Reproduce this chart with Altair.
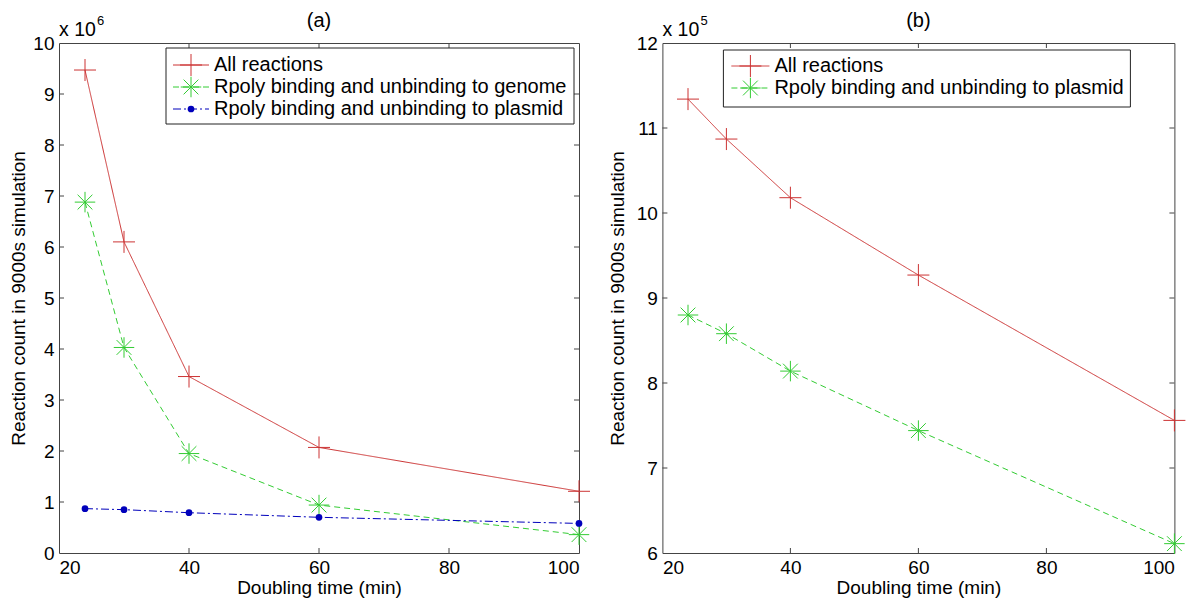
import altair as alt
import pandas as pd

# ---------------- data ----------------
doubling = [24, 30, 40, 60, 100]

a_names = ["All reactions",
           "Rpoly binding and unbinding to genome",
           "Rpoly binding and unbinding to plasmid"]
a_all = [9.47, 6.10, 3.46, 2.07, 1.21]        # x 10^6
a_genome = [6.88, 4.03, 1.95, 0.94, 0.36]     # x 10^6
a_plasmid = [0.87, 0.85, 0.79, 0.70, 0.58]    # x 10^6

b_names = ["All reactions",
           "Rpoly binding and unbinding to plasmid"]
b_all = [11.34, 10.87, 10.18, 9.27, 7.56]     # x 10^5
b_plasmid = [8.80, 8.58, 8.14, 7.44, 6.11]    # x 10^5

x_ticks = [20, 40, 60, 80, 100]
a_yticks = [0, 1, 2, 3, 4, 5, 6, 7, 8, 9, 10]
b_yticks = [6, 7, 8, 9, 10, 11, 12]

# ---------------- styles ----------------
FONT = "Liberation Sans"
H = 510
RED, GREEN, BLUE = "#cc3333", "#33cc33", "#0000bb"
BOX = "#444444"
PLUS = "M-1,0L1,0M0,-1L0,1"
STAR = "M-1,0L1,0M0,-1L0,1M-0.72,-0.72L0.72,0.72M-0.72,0.72L0.72,-0.72"

STYLES = {
    "red": dict(color=RED, dash=[1, 0], shape=PLUS, size=484, filled=False),
    "green": dict(color=GREEN, dash=[6, 4], shape=STAR, size=420, filled=False),
    "blue": dict(color=BLUE, dash=[8, 3, 2, 3], shape="circle", size=45, filled=True),
}


def panel(W, series, names, styles, ydomain, yticks, letter, exponent,
          legend_box, legend_rows, line_x, text_x, ytitle_pad):
    xs = alt.Scale(domain=[20, 100], nice=False, zero=False, padding=0)
    ys = alt.Scale(domain=ydomain, nice=False, zero=False, padding=0)
    xaxis = alt.Axis(values=x_ticks, title="Doubling time (min)", format="d",
                     labelPadding=5, titlePadding=1)
    yaxis = alt.Axis(values=yticks, title="Reaction count in 9000s simulation",
                     format="d", labelPadding=5, titlePadding=ytitle_pad)
    layers = []
    for vals, st in zip(series, styles):
        s = STYLES[st]
        df = pd.DataFrame({"x": doubling, "y": vals})
        enc = dict(x=alt.X("x:Q", scale=xs, axis=xaxis),
                   y=alt.Y("y:Q", scale=ys, axis=yaxis))
        layers.append(alt.Chart(df).mark_line(
            color=s["color"], strokeWidth=1, strokeDash=s["dash"]).encode(**enc))
        layers.append(alt.Chart(df).mark_point(
            shape=s["shape"], size=s["size"], filled=s["filled"],
            color=s["color"], strokeWidth=1, opacity=1).encode(**enc))

    # inward ticks
    xt = pd.DataFrame({"v": [t for t in x_ticks if t not in (20, 100)]})
    yt = pd.DataFrame({"v": yticks[1:-1]})
    tick = dict(color=BOX, strokeWidth=1)
    layers.append(alt.Chart(xt).mark_rule(**tick).encode(
        x=alt.X("v:Q", scale=xs, axis=xaxis), y=alt.value(H), y2=alt.value(H - 5)))
    layers.append(alt.Chart(xt).mark_rule(**tick).encode(
        x=alt.X("v:Q", scale=xs, axis=xaxis), y=alt.value(0), y2=alt.value(5)))
    layers.append(alt.Chart(yt).mark_rule(**tick).encode(
        y=alt.Y("v:Q", scale=ys, axis=yaxis), x=alt.value(0), x2=alt.value(5)))
    layers.append(alt.Chart(yt).mark_rule(**tick).encode(
        y=alt.Y("v:Q", scale=ys, axis=yaxis), x=alt.value(W), x2=alt.value(W - 5)))

    one = pd.DataFrame({"k": [0]})
    # legend box
    bx1, bx2, by1, by2 = legend_box
    layers.append(alt.Chart(one).mark_rect(fill="white", stroke="#222222",
                                            strokeWidth=1).encode(
        x=alt.value(bx1), x2=alt.value(bx2), y=alt.value(by1), y2=alt.value(by2)))
    for name, st, ry in zip(names, styles, legend_rows):
        s = STYLES[st]
        layers.append(alt.Chart(one).mark_rule(
            color=s["color"], strokeWidth=1, strokeDash=s["dash"]).encode(
            x=alt.value(line_x[0]), x2=alt.value(line_x[1]), y=alt.value(ry)))
        layers.append(alt.Chart(one).mark_point(
            shape=s["shape"], size=s["size"], filled=s["filled"],
            color=s["color"], strokeWidth=1, opacity=1).encode(
            x=alt.value((line_x[0] + line_x[1]) / 2), y=alt.value(ry)))
        layers.append(alt.Chart(one).mark_text(
            align="left", baseline="middle", font=FONT, fontSize=20,
            color="black").encode(
            x=alt.value(text_x), y=alt.value(ry), text=alt.value(name)))

    # exponent label and panel letter
    layers.append(alt.Chart(one).mark_text(
        align="left", baseline="middle", font=FONT, fontSize=19.5,
        color="black").encode(x=alt.value(0), y=alt.value(-13),
                              text=alt.value("x 10")))
    layers.append(alt.Chart(one).mark_text(
        align="left", baseline="middle", font=FONT, fontSize=13,
        color="black").encode(x=alt.value(38), y=alt.value(-22),
                              text=alt.value(exponent)))
    layers.append(alt.Chart(one).mark_text(
        align="center", baseline="middle", font=FONT, fontSize=20,
        color="black").encode(x=alt.value(W / 2), y=alt.value(-22),
                              text=alt.value(letter)))
    return alt.layer(*layers).properties(width=W, height=H)


left = panel(520, [a_all, a_genome, a_plasmid], a_names, ["red", "green", "blue"],
             [0, 10], a_yticks, "(a)", "6",
             (107, 515, 5, 81), [22, 44, 66], (114, 150), 155, 4.5)
right = panel(512, [b_all, b_plasmid], b_names, ["red", "green"],
              [6, 12], b_yticks, "(b)", "5",
              (61, 468, 7, 64), [23, 45], (69, 107), 112, 9)

chart = alt.hconcat(left, right, spacing=14.4).properties(
    padding={"left": 0, "top": 2, "right": 0, "bottom": 0},
    background="white",
).configure_view(
    stroke=BOX, strokeWidth=1
).configure_axis(
    labelFont=FONT, labelFontSize=19, labelColor="black",
    titleFont=FONT, titleFontSize=19, titleFontWeight="normal", titleColor="black",
    domain=False, ticks=False, grid=False,
)

chart.save("out.html", embed_options={"renderer": "svg", "actions": False})
